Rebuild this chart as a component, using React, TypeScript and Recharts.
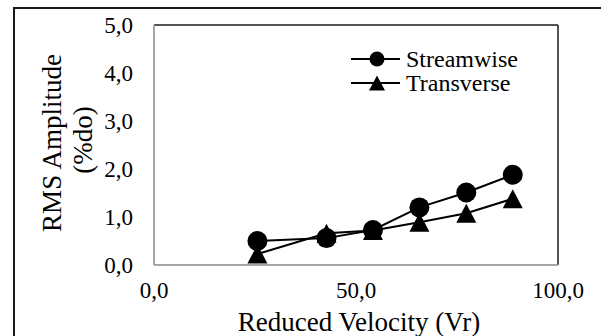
import React from 'react';
import { LineChart, Line, XAxis, YAxis, ReferenceLine } from 'recharts';

// Reduced velocity (Vr) and RMS amplitude (%do)
const vr = [25.6, 42.7, 54.2, 65.7, 77.3, 88.8];
const streamwise = [0.5, 0.56, 0.73, 1.2, 1.51, 1.88];
const transverse = [0.23, 0.66, 0.72, 0.89, 1.08, 1.38];

const xTicks = [0, 50, 100];
const yTicks = [0, 1, 2, 3, 4, 5];

const data = vr.map((v, i) => ({
  vr: v,
  streamwise: streamwise[i],
  transverse: transverse[i],
}));

const FONT = "'Times New Roman', 'Liberation Serif', serif";
const fmt = (v: number) => v.toFixed(1).replace('.', ',');

function Triangle({ cx, cy, w = 20, h = 19 }: { cx?: number; cy?: number; w?: number; h?: number }) {
  if (cx == null || cy == null) return null;
  const pts = `${cx},${cy - h / 2} ${cx - w / 2},${cy + h / 2} ${cx + w / 2},${cy + h / 2}`;
  return <polygon points={pts} fill="#000" />;
}

function Dot({ cx, cy, r = 10 }: { cx?: number; cy?: number; r?: number }) {
  if (cx == null || cy == null) return null;
  return <circle cx={cx} cy={cy} r={r} fill="#000" />;
}

function LegendBox() {
  const rows = [
    { name: 'Streamwise', kind: 'circle' },
    { name: 'Transverse', kind: 'triangle' },
  ];
  return (
    <svg width={200} height={50} style={{ position: 'absolute', left: 350, top: 49, overflow: 'visible' }}>
      {rows.map((r, i) => {
        const y = 10 + i * 24;
        return (
          <g key={r.name}>
            <line x1={1} x2={50} y1={y} y2={y} stroke="#000" strokeWidth={2} />
            {r.kind === 'circle' ? (
              <Dot cx={27} cy={y} r={7.5} />
            ) : (
              <Triangle cx={27} cy={y} w={16} h={15} />
            )}
            <text x={56} y={y} dominantBaseline="central" style={{ fontFamily: FONT }} fontSize={24} fill="#000">
              {r.name}
            </text>
          </g>
        );
      })}
    </svg>
  );
}

function YTitle(props: any) {
  const vb = props.viewBox || { x: 0, y: 25, width: 154, height: 240 };
  const cy = vb.y + vb.height / 2;
  return (
    <g style={{ fontFamily: FONT }} fontSize={27} fill="#000">
      <text x={52} y={cy - 2} textAnchor="middle" dominantBaseline="central" transform={`rotate(-90 52 ${cy - 2})`}>
        RMS Amplitude
      </text>
      <text x={83} y={cy - 5} textAnchor="middle" dominantBaseline="central" transform={`rotate(-90 83 ${cy - 5})`}>
        (%do)
      </text>
    </g>
  );
}

function XTitle(props: any) {
  const vb = props.viewBox || { x: 154, y: 265, width: 404, height: 71 };
  return (
    <text
      x={vb.x + vb.width / 2 + 3}
      y={vb.y + 57}
      textAnchor="middle"
      dominantBaseline="central"
      style={{ fontFamily: FONT }}
      fontSize={27}
      fill="#000"
    >
      Reduced Velocity (Vr)
    </text>
  );
}

export default function App() {
  return (
    <div
      style={{
        position: 'absolute',
        top: 0,
        left: 0,
        width: 601,
        height: 336,
        overflow: 'hidden',
        background: '#fff',
        fontFamily: FONT,
      }}
    >
      <div
        style={{
          position: 'absolute',
          left: 13,
          top: 7,
          width: 700,
          height: 400,
          borderLeft: '2px solid #1a1a1a',
          borderTop: '2px solid #1a1a1a',
        }}
      />
      <div style={{ position: 'absolute', top: 0, left: 0 }}>
        <LineChart width={601} height={336} data={data} margin={{ top: 25, right: 43, left: 0, bottom: 0 }}>
          <XAxis
            type="number"
            dataKey="vr"
            domain={[0, 100]}
            ticks={xTicks}
            tickFormatter={fmt}
            tickLine={false}
            tickMargin={11}
            height={71}
            axisLine={{ stroke: '#a6a6a6', strokeWidth: 2 }}
            tick={{ fill: '#000', style: { fontFamily: FONT }, fontSize: 23 }}
            label={{ content: (p: any) => <XTitle {...p} /> }}
          />
          <YAxis
            type="number"
            domain={[0, 5]}
            ticks={yTicks}
            tickFormatter={fmt}
            tickLine={false}
            tickMargin={15}
            width={154}
            axisLine={{ stroke: '#a6a6a6', strokeWidth: 2 }}
            tick={{ fill: '#000', style: { fontFamily: FONT }, fontSize: 23 }}
            label={{ content: (p: any) => <YTitle {...p} /> }}
          />
          <ReferenceLine y={5} stroke="#1a1a1a" strokeWidth={1.5} />
          <ReferenceLine x={100} stroke="#1a1a1a" strokeWidth={1.5} />
          <Line
            dataKey="streamwise"
            name="Streamwise"
            stroke="#000"
            strokeWidth={2}
            dot={(p: any) => <Dot key={`s${p.index}`} cx={p.cx} cy={p.cy} />}
            activeDot={false}
            isAnimationActive={false}
          />
          <Line
            dataKey="transverse"
            name="Transverse"
            stroke="#000"
            strokeWidth={2}
            dot={(p: any) => <Triangle key={`t${p.index}`} cx={p.cx} cy={p.cy} />}
            activeDot={false}
            isAnimationActive={false}
          />
        </LineChart>
      </div>
      <LegendBox />
    </div>
  );
}
